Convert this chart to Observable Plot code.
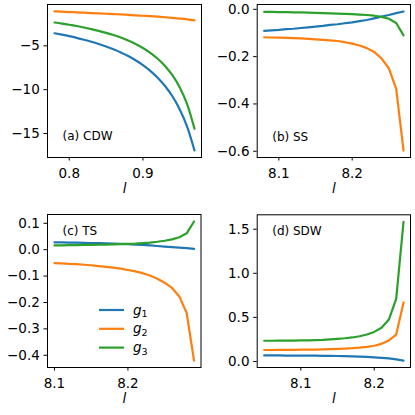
<!DOCTYPE html>
<html><head><meta charset="utf-8">
<script src="https://cdn.jsdelivr.net/npm/d3@7"></script>
<script src="https://cdn.jsdelivr.net/npm/@observablehq/plot@0.6"></script>
<style>
html,body{margin:0;padding:0;background:#fff;}
#fig{position:relative;width:415px;height:415px;font-family:"DejaVu Sans",sans-serif;overflow:hidden;}
#fig svg{position:absolute;}
</style></head><body><div id="fig"></div>
<script>
// ---- data ----
const seriesNames = ["g1", "g2", "g3"];
const seriesColors = ["#1f77b4", "#ff7f0e", "#2ca02c"];

const l_a = [0.78,0.79,0.80,0.81,0.82,0.83,0.84,0.85,0.86,0.87,0.88,0.89,0.90,0.91,0.92,0.93,0.94,0.95,0.96,0.97];
const g1_a = [-3.57,-3.73,-3.90,-4.09,-4.30,-4.53,-4.79,-5.08,-5.40,-5.76,-6.17,-6.65,-7.20,-7.85,-8.63,-9.58,-10.75,-12.25,-14.22,-16.94];
const g2_a = [-1.08,-1.11,-1.15,-1.18,-1.22,-1.26,-1.30,-1.34,-1.38,-1.42,-1.47,-1.52,-1.57,-1.62,-1.68,-1.74,-1.81,-1.89,-1.98,-2.10];
const g3_a = [-2.34,-2.46,-2.60,-2.74,-2.91,-3.09,-3.29,-3.52,-3.77,-4.06,-4.40,-4.79,-5.25,-5.80,-6.47,-7.29,-8.35,-9.74,-11.65,-14.46];

const l_b = [8.08,8.09,8.10,8.11,8.12,8.13,8.14,8.15,8.16,8.17,8.18,8.19,8.20,8.21,8.22,8.23,8.24,8.25,8.26,8.27];
const g1_b = [-0.091,-0.089,-0.087,-0.084,-0.082,-0.079,-0.076,-0.073,-0.070,-0.066,-0.063,-0.059,-0.055,-0.050,-0.045,-0.038,-0.031,-0.024,-0.016,-0.009];
const g2_b = [-0.118,-0.119,-0.120,-0.121,-0.122,-0.123,-0.125,-0.127,-0.129,-0.131,-0.134,-0.139,-0.145,-0.153,-0.164,-0.180,-0.208,-0.250,-0.336,-0.597];
const g3_b = [-0.011,-0.011,-0.012,-0.012,-0.013,-0.013,-0.014,-0.015,-0.016,-0.017,-0.018,-0.019,-0.020,-0.022,-0.024,-0.027,-0.032,-0.040,-0.058,-0.110];

const l_c = [8.10,8.11,8.12,8.13,8.14,8.15,8.16,8.17,8.18,8.19,8.20,8.21,8.22,8.23,8.24,8.25,8.26,8.27,8.28,8.29];
const g1_c = [0.028,0.028,0.027,0.027,0.026,0.025,0.025,0.024,0.023,0.022,0.021,0.019,0.018,0.016,0.014,0.012,0.010,0.008,0.006,0.003];
const g2_c = [-0.051,-0.052,-0.054,-0.055,-0.057,-0.059,-0.062,-0.065,-0.068,-0.072,-0.077,-0.082,-0.089,-0.098,-0.110,-0.125,-0.145,-0.177,-0.240,-0.420];
const g3_c = [0.016,0.016,0.017,0.017,0.018,0.018,0.019,0.019,0.020,0.021,0.022,0.023,0.025,0.027,0.030,0.034,0.039,0.047,0.062,0.107];

const l_d = [8.05,8.06,8.07,8.08,8.09,8.10,8.11,8.12,8.13,8.14,8.15,8.16,8.17,8.18,8.19,8.20,8.21,8.22,8.23,8.24];
const g1_d = [0.068,0.068,0.068,0.067,0.067,0.066,0.066,0.065,0.064,0.063,0.062,0.060,0.058,0.055,0.051,0.047,0.041,0.034,0.024,0.010];
const g2_d = [0.130,0.130,0.131,0.131,0.132,0.133,0.134,0.135,0.137,0.139,0.142,0.146,0.150,0.157,0.166,0.178,0.200,0.238,0.305,0.670];
const g3_d = [0.235,0.235,0.236,0.236,0.237,0.238,0.240,0.242,0.245,0.250,0.256,0.263,0.272,0.286,0.306,0.335,0.382,0.475,0.710,1.585];

const xTicks_a = [0.8, 0.9], yTicks_a = [-15, -10, -5];
const xTicks_b = [8.1, 8.2], yTicks_b = [-0.6, -0.4, -0.2, 0.0];
const xTicks_c = [8.1, 8.2], yTicks_c = [-0.4, -0.3, -0.2, -0.1, 0.0, 0.1];
const xTicks_d = [8.1, 8.2], yTicks_d = [0.0, 0.5, 1.0, 1.5];

const labels = ["(a) CDW", "(b) SS", "(c) TS", "(d) SDW"];
const xLabel = "l";

// ---- drawing ----
const fig = document.getElementById("fig");
const f1 = d3.format(".1f"), fd = d3.format("d");

function pad(ext) { const d = ext[1] - ext[0]; return [ext[0] - 0.05 * d, ext[1] + 0.05 * d]; }

function panel(o) {
  const rows = [];
  [o.g1, o.g2, o.g3].forEach((arr, k) => arr.forEach((v, i) => rows.push({l: o.l[i], v, s: seriesNames[k]})));
  const svg = Plot.plot({
    width: o.width, height: o.height,
    marginLeft: o.mL, marginRight: o.width - o.fR, marginTop: o.mT, marginBottom: o.height - o.fB,
    style: {fontFamily: '"DejaVu Sans", sans-serif', fontSize: "13.5px", background: "transparent", overflow: "visible", color: "black"},
    x: {domain: pad(d3.extent(o.l))},
    y: {domain: pad(d3.extent(rows, d => d.v))},
    color: {domain: seriesNames, range: seriesColors},
    marks: [
      Plot.line(rows, {x: "l", y: "v", stroke: "s", z: "s", strokeWidth: 2.2, curve: o.curve || "linear"}),
      Plot.frame({stroke: "black", strokeWidth: 1}),
      Plot.axisX({ticks: o.xTicks, tickFormat: f1, tickSize: 3.5, tickPadding: 7.5, label: null}),
      Plot.axisY({ticks: o.yTicks, tickFormat: o.yFmt, tickSize: 3.5, tickPadding: 4.2, label: null}),
      Plot.text([o.label], {frameAnchor: o.anchor, text: d => d, dx: 15, dy: o.ldy, fontSize: 12, textAnchor: "start", fill: "black"}),
      Plot.text([xLabel], {frameAnchor: "bottom", text: d => d, dy: 35, fontStyle: "italic", fontSize: 13.5, fill: "black"})
    ]
  });
  svg.style.left = o.left + "px";
  svg.style.top = o.top + "px";
  fig.appendChild(svg);
}

panel({l: l_a, g1: g1_a, g2: g2_a, g3: g3_a, xTicks: xTicks_a, yTicks: yTicks_a, yFmt: fd,
  label: labels[0], anchor: "bottom-left", ldy: -18, curve: "monotone-x",
  left: 0, top: 0, width: 207, height: 207, mL: 47, fR: 201, mT: 4, fB: 157});
panel({l: l_b, g1: g1_b, g2: g2_b, g3: g3_b, xTicks: xTicks_b, yTicks: yTicks_b, yFmt: f1,
  label: labels[1], anchor: "bottom-left", ldy: -17,
  left: 207, top: 0, width: 208, height: 207, mL: 49.7, fR: 203, mT: 4, fB: 157});
panel({l: l_c, g1: g1_c, g2: g2_c, g3: g3_c, xTicks: xTicks_c, yTicks: yTicks_c, yFmt: f1,
  label: labels[2], anchor: "top-left", ldy: 12,
  left: 0, top: 207, width: 207, height: 208, mL: 47, fR: 200.5, mT: 7, fB: 160});
panel({l: l_d, g1: g1_d, g2: g2_d, g3: g3_d, xTicks: xTicks_d, yTicks: yTicks_d, yFmt: f1,
  label: labels[3], anchor: "top-left", ldy: 12,
  left: 207, top: 207, width: 208, height: 208, mL: 49.7, fR: 203, mT: 7.3, fB: 160});

// legend in panel (c)
const ns = "http://www.w3.org/2000/svg";
const leg = document.createElementNS(ns, "svg");
leg.setAttribute("width", 415); leg.setAttribute("height", 415);
leg.style.left = "0px"; leg.style.top = "0px";
leg.setAttribute("font-family", '"DejaVu Sans", sans-serif');
seriesNames.forEach((name, i) => {
  const y = 310 + i * 18.8;
  const line = document.createElementNS(ns, "line");
  line.setAttribute("x1", 99); line.setAttribute("x2", 124);
  line.setAttribute("y1", y); line.setAttribute("y2", y);
  line.setAttribute("stroke", seriesColors[i]); line.setAttribute("stroke-width", 2.2);
  leg.appendChild(line);
  const t = document.createElementNS(ns, "text");
  t.setAttribute("x", 133); t.setAttribute("y", y + 4.5);
  t.setAttribute("font-size", 13.5); t.setAttribute("font-style", "italic");
  t.textContent = name[0];
  const sub = document.createElementNS(ns, "tspan");
  sub.setAttribute("font-size", 9.5); sub.setAttribute("font-style", "normal"); sub.setAttribute("dy", 2.5);
  sub.textContent = name.slice(1);
  t.appendChild(sub);
  leg.appendChild(t);
});
fig.appendChild(leg);
</script></body></html>
